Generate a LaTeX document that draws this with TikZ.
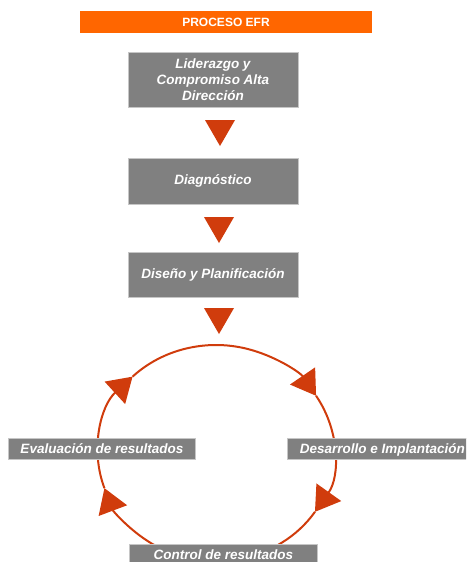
\documentclass[tikz,border=0pt]{standalone}
\usepackage{fontspec}
\setmainfont{Liberation Sans}
\usetikzlibrary{arrows.meta,shapes.geometric}
\definecolor{efrorange}{RGB}{255,102,0}
\definecolor{efrred}{RGB}{208,60,12}
\definecolor{efrgray}{RGB}{128,128,128}

\begin{document}
\begin{tikzpicture}[x=1pt, y=-1pt,
    stage/.style={fill=efrgray, draw=gray!45, line width=0.8pt, text=white,
        font=\fontsize{13.5}{16}\selectfont\bfseries\itshape,
        minimum width=170pt, align=center, inner sep=0pt},
    tag/.style={fill=efrgray, draw=gray!45, line width=0.8pt, text=white,
        font=\fontsize{13.5}{16}\selectfont\bfseries\itshape,
        text height=10pt, text depth=0pt, minimum height=21pt,
        minimum width=188pt, inner sep=0pt, anchor=west},
    down/.style={fill=efrred, regular polygon, regular polygon sides=3,
        shape border rotate=180, minimum size=34.64pt, inner sep=0pt},
    ring/.style={draw=efrred, line width=2pt, -{Triangle[length=24pt, width=30pt]}}]
    \useasboundingbox (0, 0) rectangle (466, 562);
    \clip (0, 0) rectangle (466, 562);

    \node[fill=efrorange, text=white, font=\fontsize{12}{14}\selectfont\bfseries,
        minimum width=292pt, minimum height=22pt, inner sep=0pt] (proceso) at (226, 22) {PROCESO EFR};

    \node[stage, minimum height=55pt] (lider) at (213, 79.5) {Liderazgo y\\Compromiso Alta\\Direcci\'on};
    \node[down] (flowA) at (220, 128.7) {};
    \node[stage, minimum height=46pt] (diag) at (213, 181) {Diagn\'ostico};
    \node[down] (flowB) at (219, 225.7) {};
    \node[stage, minimum height=45pt] (diseno) at (213, 274.5) {Dise\~no y Planificaci\'on};
    \node[down] (flowC) at (219, 316.7) {};

    \coordinate (c) at (216, 453);
    \coordinate (ringUL) at ([shift={(225:118 and 108)}]c);
    \coordinate (ringUR) at ([shift={(-32:118 and 108)}]c);
    \coordinate (ringLR) at ([shift={(33:118 and 108)}]c);
    \coordinate (ringLL) at ([shift={(161:118 and 108)}]c);

    \draw[ring] (ringUL) arc[start angle=225, end angle=328, x radius=118, y radius=108];
    \draw[ring] (ringUR) arc[start angle=-32, end angle=33, x radius=118, y radius=108];
    \draw[ring] (ringLR) arc[start angle=33, end angle=161, x radius=118, y radius=108];
    \draw[ring] (ringLL) arc[start angle=161, end angle=225, x radius=118, y radius=108];

    \node[tag, minimum width=187pt] (evaluacion) at (8, 448.5) {Evaluaci\'on de resultados};
    \node[tag, minimum width=190pt] (desarrollo) at (287, 448.5) {Desarrollo e Implantaci\'on};
    \node[tag] (control) at (129, 554.5) {Control de resultados};
\end{tikzpicture}
\end{document}
